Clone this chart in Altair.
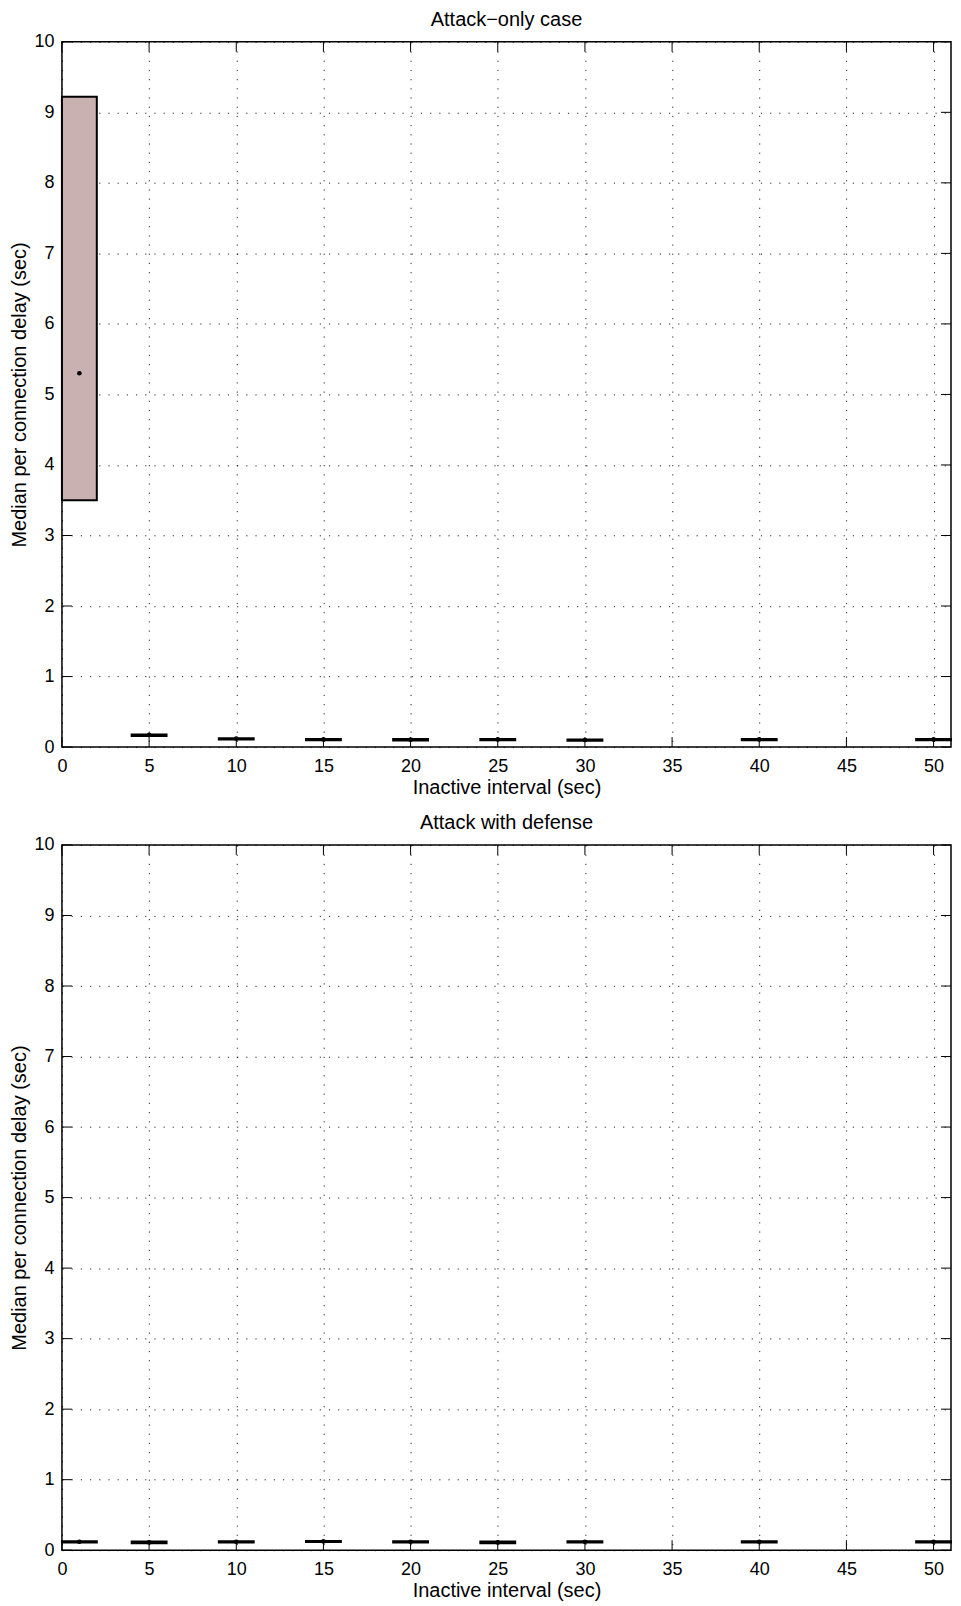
import altair as alt
import pandas as pd

# ---------------- data ----------------
positions = [1, 5, 10, 15, 20, 25, 30, 40, 50]
box_half_width = 1.0

top_title = "Attack\u2212only case"
top_q1 = [3.50, 0.158, 0.108, 0.098, 0.093, 0.098, 0.091, 0.098, 0.098]
top_q3 = [9.22, 0.178, 0.126, 0.116, 0.114, 0.116, 0.109, 0.116, 0.116]
top_med = [5.30, 0.172, 0.120, 0.108, 0.105, 0.108, 0.100, 0.108, 0.108]

bot_title = "Attack with defense"
bot_q1 = [0.110, 0.098, 0.110, 0.116, 0.110, 0.098, 0.110, 0.110, 0.110]
bot_q3 = [0.128, 0.124, 0.128, 0.132, 0.128, 0.122, 0.128, 0.128, 0.128]
bot_med = [0.120, 0.110, 0.120, 0.124, 0.120, 0.110, 0.120, 0.120, 0.120]

x_ticks = [0, 5, 10, 15, 20, 25, 30, 35, 40, 45, 50]
y_ticks = [0, 1, 2, 3, 4, 5, 6, 7, 8, 9, 10]
x_domain = [0, 51]
y_domain = [0, 10]

x_title = "Inactive interval (sec)"
y_title = "Median per connection delay (sec)"

FONT = "Liberation Sans"
W, H = 890, 706
TICK = 10
BOX_FILL = "#c9b1b1"


def panel(title, q1, q3, med):
    df = pd.DataFrame({
        "pos": positions,
        "lo": [p - box_half_width for p in positions],
        "hi": [p + box_half_width for p in positions],
        "q1": q1, "q3": q3, "med": med,
    })
    xt = pd.DataFrame({"t": x_ticks})
    yt = pd.DataFrame({"t": y_ticks})
    xs = alt.Scale(domain=x_domain, nice=False, zero=False)
    ys = alt.Scale(domain=y_domain, nice=False)
    xaxis = alt.Axis(values=x_ticks, title=x_title, grid=True, ticks=False, tickSize=0,
                     domain=False, labelPadding=10, titlePadding=2, format="d",
                     labelFlush=False)
    yaxis = alt.Axis(values=y_ticks, title=y_title, grid=True, ticks=False, tickSize=0,
                     domain=False, labelPadding=8, titlePadding=4, format="d",
                     labelFlush=False)

    boxes = alt.Chart(df).mark_rect(fill=BOX_FILL, stroke="black", strokeWidth=2).encode(
        x=alt.X("lo:Q", scale=xs, axis=xaxis), x2="hi:Q",
        y=alt.Y("q1:Q", scale=ys, axis=yaxis), y2="q3:Q")
    meds = alt.Chart(df).mark_circle(color="black", size=22, opacity=1).encode(
        x=alt.X("pos:Q", scale=xs, axis=xaxis), y=alt.Y("med:Q", scale=ys, axis=yaxis))
    tb = alt.Chart(xt).mark_rule(color="black", strokeWidth=1).encode(
        x=alt.X("t:Q", scale=xs, axis=xaxis), y=alt.value(H), y2=alt.value(H - TICK))
    tt = alt.Chart(xt).mark_rule(color="black", strokeWidth=1).encode(
        x=alt.X("t:Q", scale=xs, axis=xaxis), y=alt.value(0), y2=alt.value(TICK))
    tl = alt.Chart(yt).mark_rule(color="black", strokeWidth=1).encode(
        y=alt.Y("t:Q", scale=ys, axis=yaxis), x=alt.value(0), x2=alt.value(TICK))
    tr = alt.Chart(yt).mark_rule(color="black", strokeWidth=1).encode(
        y=alt.Y("t:Q", scale=ys, axis=yaxis), x=alt.value(W), x2=alt.value(W - TICK))
    return alt.layer(tb, tt, tl, tr, boxes, meds).properties(
        width=W, height=H,
        title=alt.TitleParams(text=title, fontSize=20, font=FONT, fontWeight="normal",
                              color="black", offset=3))


chart = alt.vconcat(
    panel(top_title, top_q1, top_q3, top_med),
    panel(bot_title, bot_q1, bot_q3, bot_med),
    spacing=14,
).properties(
    padding={"left": 1, "top": 0, "right": 0, "bottom": 0}
).configure_view(
    stroke="black", strokeWidth=1.5
).configure_axis(
    labelFont=FONT, titleFont=FONT, labelFontSize=18, titleFontSize=20,
    labelColor="black", titleColor="black", titleFontWeight="normal",
    gridColor="black", gridDash=[1.2, 8], gridWidth=1, gridOpacity=0.85,
).configure_title(font=FONT)

chart.save("out.html", embed_options={"renderer": "svg", "actions": False})
